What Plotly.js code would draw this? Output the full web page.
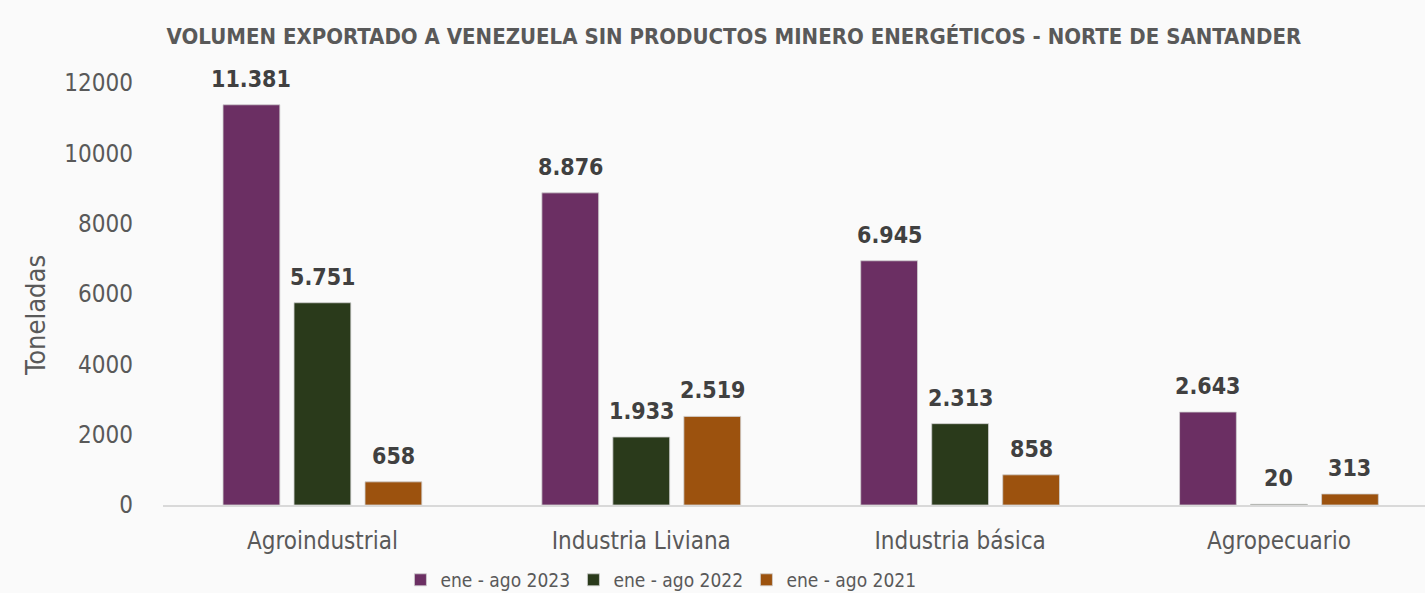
<!DOCTYPE html>
<html>
<head>
<meta charset="utf-8">
<script src="https://cdn.plot.ly/plotly-3.0.1.min.js"></script>
<style>html,body{margin:0;padding:0;background:#fafafa;}#chart{width:1425px;height:593px;}</style>
</head>
<body>
<div id="chart"></div>
<script>
const categories = ["Agroindustrial", "Industria Liviana", "Industria básica", "Agropecuario"];
const seriesNames = ["ene - ago 2023", "ene - ago 2022", "ene - ago 2021"];
const values2023 = [11381, 8876, 6945, 2643];
const values2022 = [5751, 1933, 2313, 20];
const values2021 = [658, 2519, 858, 313];
const yTickVals = [0, 2000, 4000, 6000, 8000, 10000, 12000];
const yTickText = ["0", "2000", "4000", "6000", "8000", "10000", "12000"];
const yTitle = "Toneladas";
const chartTitle = "VOLUMEN EXPORTADO A VENEZUELA SIN PRODUCTOS MINERO ENERGÉTICOS - NORTE DE SANTANDER";

const FONT = "'DejaVu Sans Condensed', 'Liberation Sans Narrow', 'Arial Narrow', 'Liberation Sans', Arial, sans-serif";
const colors = ["#6b2f63", "#2a3a1b", "#9c520e"];
const allValues = [values2023, values2022, values2021];

const fmt = v => v.toLocaleString('de-DE');

const traces = allValues.map((vals, i) => ({
  type: 'bar',
  name: seriesNames[i],
  x: categories,
  y: vals,
  marker: {color: colors[i], line: {color: '#cfcfcf', width: 0.8}},
  hoverinfo: 'x+y+name'
}));

const slotPx = 71;
const annotations = [];
allValues.forEach((vals, i) => {
  vals.forEach((v, j) => {
    annotations.push({
      x: categories[j], y: v, xref: 'x', yref: 'y',
      text: '<b>' + fmt(v) + '</b>',
      showarrow: false, yanchor: 'bottom', xanchor: 'center',
      xshift: (i - 1) * slotPx, yshift: 11,
      font: {family: FONT, size: 23, color: '#404040'}
    });
  });
});
annotations.push({
  text: yTitle, textangle: -90, showarrow: false,
  xref: 'paper', yref: 'paper', x: -0.1015, y: 0.45,
  xanchor: 'center', yanchor: 'middle',
  font: {family: FONT, size: 27, color: '#595959'}
});

const layout = {
  width: 1425, height: 593,
  paper_bgcolor: '#fafafa', plot_bgcolor: '#fafafa',
  margin: {l: 163, r: 0, t: 83, b: 88},
  separators: ',.',
  font: {family: FONT, color: '#595959'},
  title: {
    text: '<b>' + chartTitle + '</b>',
    font: {family: FONT, size: 22, color: '#595959'},
    x: 0.515, xanchor: 'center', y: 0.938, yanchor: 'middle'
  },
  barmode: 'group', bargap: 0.332, bargroupgap: 0.2,
  xaxis: {
    range: [-0.5, 3.458], showline: true, linecolor: '#d9d9d9', linewidth: 2,
    showgrid: false, zeroline: false, ticks: '', ticklabelstandoff: 13,
    tickfont: {family: FONT, size: 24, color: '#595959'}, fixedrange: true
  },
  yaxis: {
    range: [0, 12000], tickvals: yTickVals, ticktext: yTickText,
    showgrid: false, zeroline: false, showline: false, ticks: '',
    ticklabelstandoff: 29,
    tickfont: {family: FONT, size: 24, color: '#595959'},
    fixedrange: true
  },
  legend: {
    orientation: 'h', x: 0.281, xref: 'container', y: 0.022, yref: 'container', yanchor: 'middle', xanchor: 'left',
    font: {family: FONT, size: 19, color: '#595959'}, entrywidth: 128,
    bgcolor: 'rgba(0,0,0,0)', traceorder: 'normal', itemclick: false
  },
  annotations: annotations,
  showlegend: true
};
Plotly.newPlot('chart', traces, layout, {displayModeBar: false, staticPlot: true});
</script>
</body>
</html>
